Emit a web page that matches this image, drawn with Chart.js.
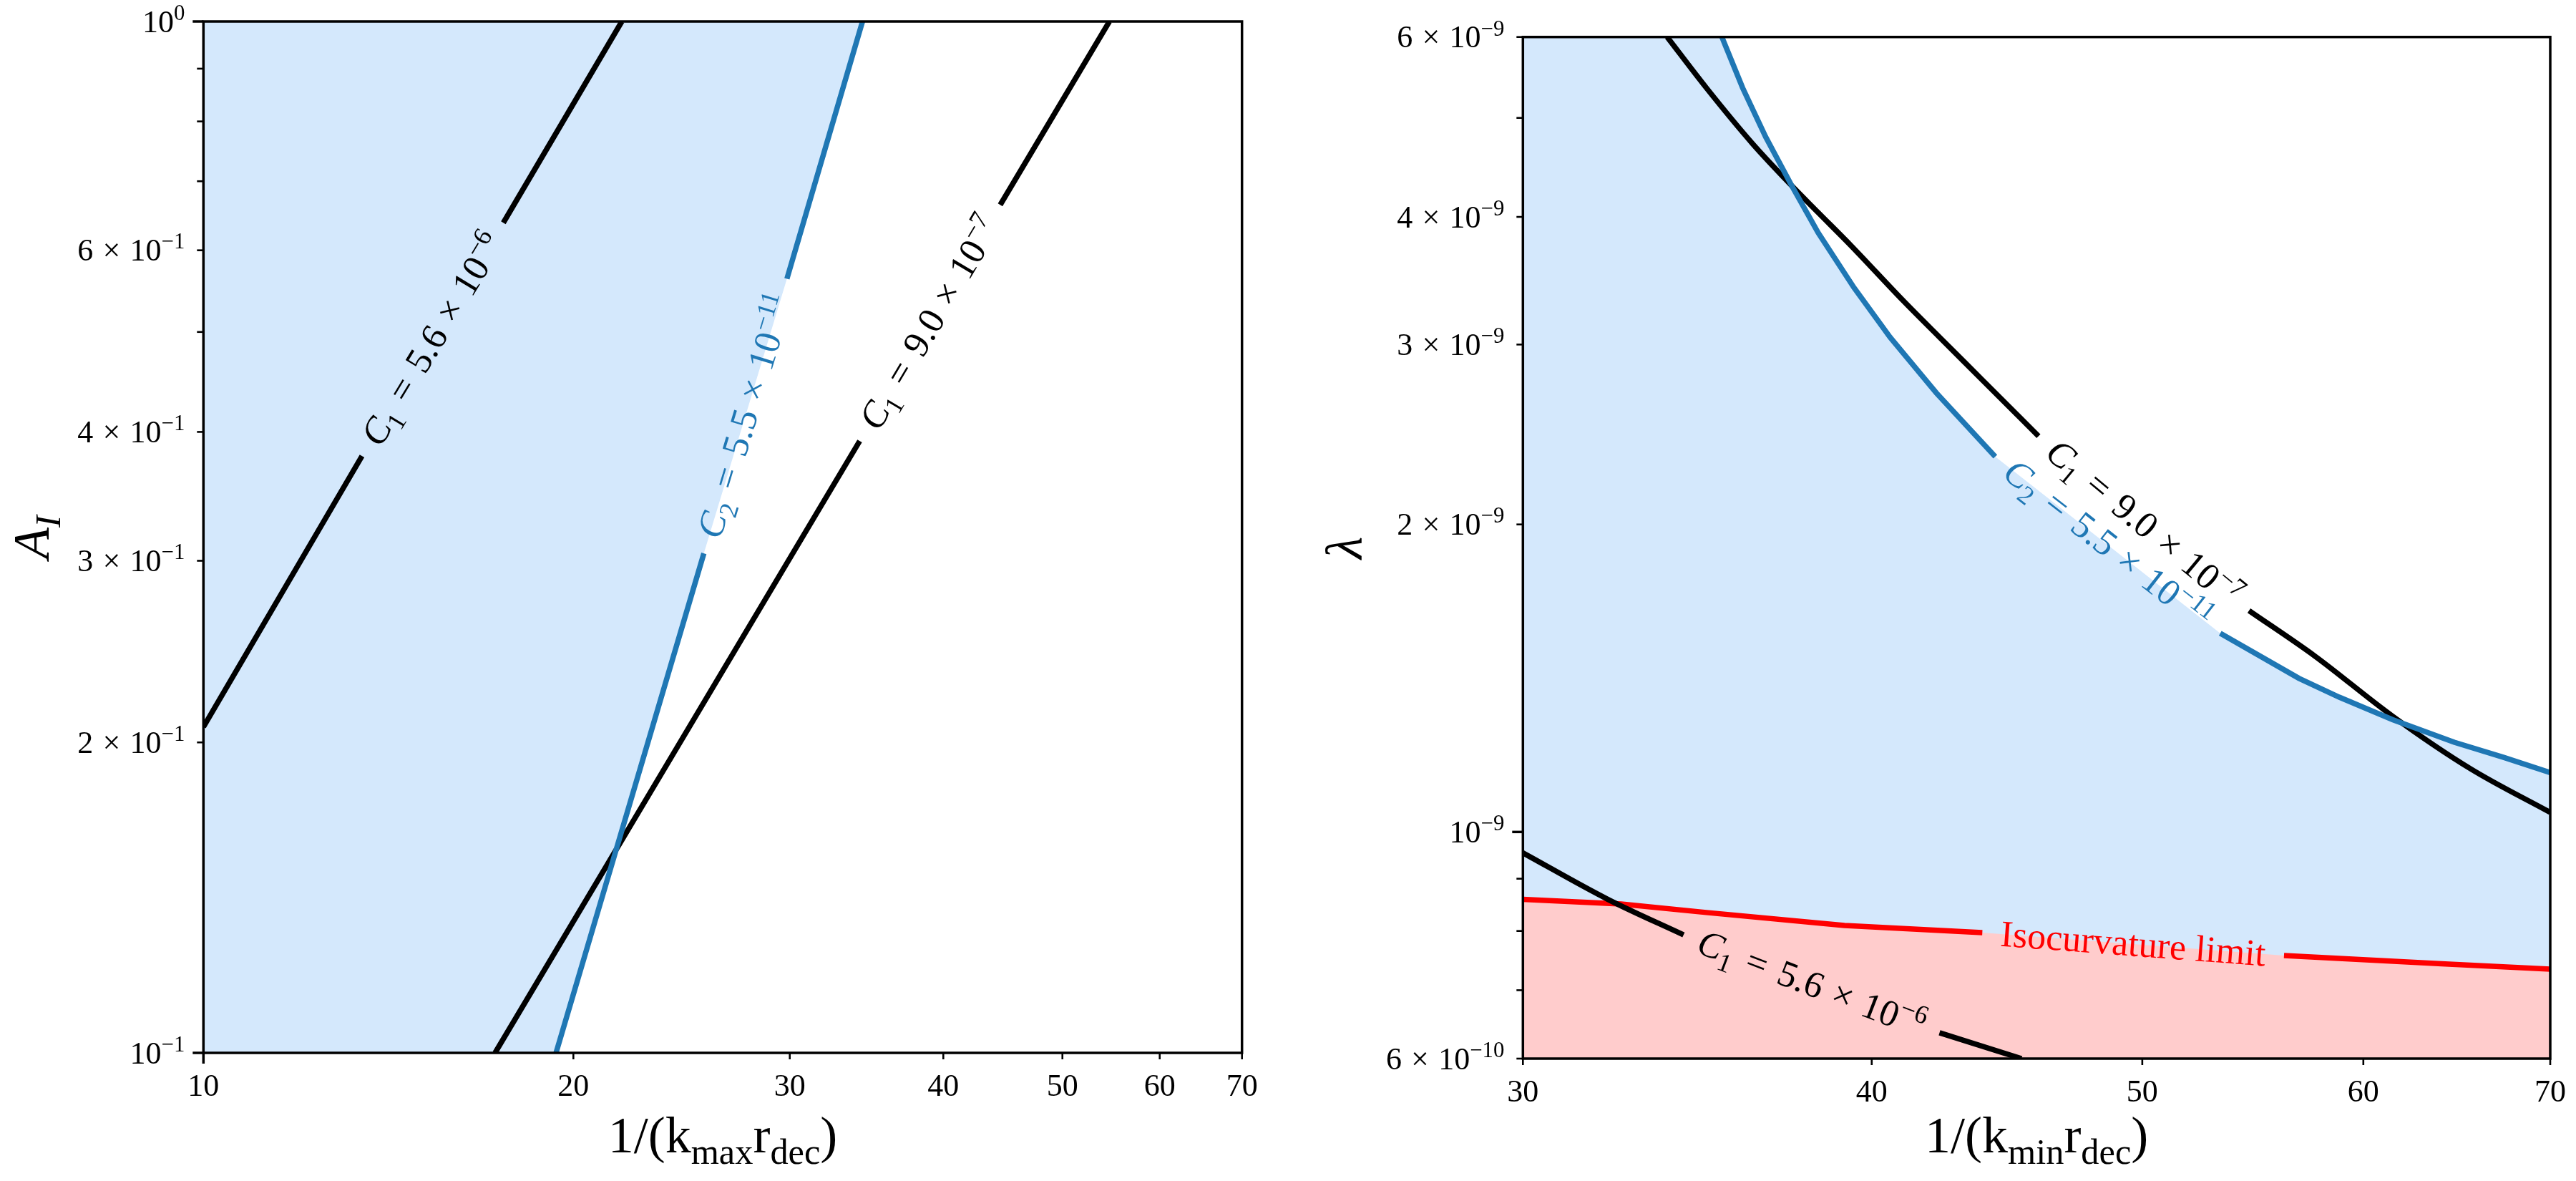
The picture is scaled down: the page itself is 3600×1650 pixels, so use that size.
<!DOCTYPE html>
<html>
<head>
<meta charset="utf-8">
<script src="https://cdn.jsdelivr.net/npm/chart.js@4.4.1/dist/chart.umd.min.js"></script>
<style>
  body { margin: 0; background: #fff; }
  canvas { position: absolute; top: 0; }
  #left { left: 0; }
  #right { left: 1800px; }
</style>
</head>
<body>
<canvas id="left" width="1800" height="1650"></canvas>
<canvas id="right" width="1800" height="1650"></canvas>
<script>
// ---- left panel: 1/(k_max r_dec) vs A_I ----
const kmaxTicks = [10, 20, 30, 40, 50, 60, 70];
const aiTicks = [0.1, 0.2, 0.3, 0.4, 0.5, 0.6, 0.7, 0.8, 0.9, 1];
const aiTickLabels = ['10^−1', '2 × 10^−1', '3 × 10^−1', '4 × 10^−1', '', '6 × 10^−1', '', '', '', '10^0'];
// null marks the gap where the inline label sits
const kmaxC1hi = [[10, 0.207], [13.46, 0.379], null, [17.54, 0.638], [21.9, 1.0]];
const kmaxC1lo = [[17.27, 0.1], [34.2, 0.392], null, [44.5, 0.664], [54.6, 1.0]];
const kmaxC2 = [[19.36, 0.1], [25.54, 0.305], null, [29.84, 0.563], [34.38, 1.0]];
const kmaxAllowedEdge = [[10, 0.1]];

// ---- right panel: 1/(k_min r_dec) vs lambda ----
const kminTicks = [30, 40, 50, 60, 70];
const lamTicks = [6e-10, 7e-10, 8e-10, 9e-10, 1e-9, 2e-9, 3e-9, 4e-9, 5e-9, 6e-9];
const lamTickLabels = ['6 × 10^−10', '', '', '', '10^−9', '2 × 10^−9', '3 × 10^−9', '4 × 10^−9', '', '6 × 10^−9'];
const kminC1lo = [[33.79, 6.0e-9], [34.90, 5.35e-9], [36.25, 4.72e-9], [37.45, 4.29e-9], [38.27, 4.04e-9],
  [39.32, 3.75e-9], [41.06, 3.31e-9], [42.30, 3.05e-9], [43.82, 2.77e-9], [45.9, 2.44e-9], null,
  [54.6, 1.647e-9], [57.64, 1.487e-9], [61.47, 1.298e-9], [65.55, 1.153e-9], [70, 1.045e-9]];
const kminC2 = [[35.35, 6.0e-9], [35.96, 5.35e-9], [36.65, 4.79e-9], [37.45, 4.29e-9], [38.27, 3.86e-9],
  [39.42, 3.41e-9], [40.61, 3.05e-9], [42.19, 2.69e-9], [44.29, 2.33e-9], null,
  [53.32, 1.565e-9], [56.89, 1.414e-9], [58.82, 1.355e-9], [61.47, 1.288e-9], [64.67, 1.224e-9],
  [67.36, 1.183e-9], [70, 1.143e-9]];
const kminC1hi = [[30, 9.54e-10], [32.18, 8.59e-10], [34.25, 7.93e-10], null, [42.30, 6.36e-10], [45.26, 6.0e-10]];
const kminIso = [[30, 8.59e-10], [32.53, 8.50e-10], [34.90, 8.34e-10], [39.11, 8.10e-10], [43.82, 7.97e-10], null,
  [56.2, 7.57e-10], [64.0, 7.43e-10], [70, 7.34e-10]];
const kminAllowedEdge = [[30, 6.0e-9]];

const FONT = '"Liberation Serif", "DejaVu Serif", serif';
const BLUE = '#1f77b4';
const BLUE_FILL = '#d4e8fc';
const RED_FILL = '#ffcccc';
const LW = 7.5;

function pts(arr) {
  return arr.map((p, i) => p ? { x: p[0], y: p[1] } : { x: arr[i - 1][0], y: null });
}

function line(arr, color, smooth) {
  return { data: pts(arr), borderColor: color, borderWidth: LW, pointRadius: 0, fill: false,
    tension: smooth ? 0.4 : 0, cubicInterpolationMode: smooth ? 'monotone' : 'default', clip: 0, order: 1 };
}

function area(arr, color, fill, order) {
  return { data: pts(arr), backgroundColor: color, borderWidth: 0, pointRadius: 0,
    fill: fill, tension: 0, clip: 0, order: order };
}

function cLabel(i, mant, exp) {
  return [{ t: 'C', it: true }, { t: i, sub: true }, { t: '=', sp: 0.36 }, { t: mant },
    { t: '×', sp: 0.3 }, { t: '10' }, { t: '−' + exp, sup: true }];
}

// '2 × 10^−1' -> rich segments
function tickSegs(label) {
  const m = label.match(/^(?:(\S+) × )?10\^(.+)$/);
  const segs = [];
  if (m[1]) segs.push({ t: m[1] }, { t: '×', sp: 0.3 });
  segs.push({ t: '10' }, { t: m[2], sup: true });
  return segs;
}

function drawRich(ctx, segs, x, y, size, o) {
  ctx.save();
  ctx.translate(x, y);
  ctx.rotate(o.angle || 0);
  ctx.fillStyle = o.color || 'black';
  ctx.textBaseline = 'alphabetic';
  let w = 0;
  const parts = segs.map(s => {
    const fs = (s.sub || s.sup) ? size * 0.7 : size;
    const font = (s.it ? 'italic ' : '') + fs + 'px ' + FONT;
    ctx.font = font;
    const sp = (s.sp || 0) * size;
    const m = ctx.measureText(s.t).width;
    w += m + 2 * sp;
    return { s, font, m, sp, dy: s.sub ? size * 0.22 : s.sup ? -size * 0.38 : 0 };
  });
  let cx = o.align === 'right' ? -w : -w / 2;
  const base = (o.shift || 0) * size;
  parts.forEach(p => {
    ctx.font = p.font;
    cx += p.sp;
    ctx.fillText(p.s.t, cx, base + p.dy);
    cx += p.m + p.sp;
  });
  ctx.restore();
}

function logAxis(min, max, vals, labels, size, horizontal, pad) {
  return {
    type: 'logarithmic', min: min, max: max, bounds: 'data',
    grid: { display: false }, border: { display: false },
    afterBuildTicks: s => { s.ticks = vals.map(v => ({ value: v })); },
    afterFit: s => { if (horizontal) s.height = size; else s.width = size; },
    ticks: { display: horizontal, autoSkip: false, maxRotation: 0, minRotation: 0, padding: pad, color: 'black',
      font: { family: FONT, size: 44 }, callback: (v, i) => labels[i] }
  };
}

// frame, tick marks (major longer than minor) and y tick labels with exponents
function frameTicks(xMajor, yMajor, yLabels) {
  return {
    id: 'frameTicks',
    afterDraw(chart) {
      const { ctx, chartArea: a } = chart;
      const xs = chart.scales.x, ys = chart.scales.y;
      ctx.save();
      ctx.strokeStyle = 'black';
      xs.ticks.forEach(t => {
        const major = xMajor.includes(t.value);
        const px = xs.getPixelForValue(t.value);
        ctx.lineWidth = major ? 3.5 : 2.6;
        ctx.beginPath(); ctx.moveTo(px, a.bottom); ctx.lineTo(px, a.bottom + (major ? 15 : 9)); ctx.stroke();
      });
      ys.ticks.forEach((t, i) => {
        const major = yMajor.includes(t.value);
        const py = ys.getPixelForValue(t.value);
        ctx.lineWidth = major ? 3.5 : 2.6;
        ctx.beginPath(); ctx.moveTo(a.left, py); ctx.lineTo(a.left - (major ? 15 : 9), py); ctx.stroke();
        if (yLabels[i]) drawRich(ctx, tickSegs(yLabels[i]), a.left - 26, py, 44, { align: 'right', shift: 0.33 });
      });
      ctx.lineWidth = 3.5;
      ctx.strokeRect(a.left, a.top, a.right - a.left, a.bottom - a.top);
      ctx.restore();
    }
  };
}

// inline contour labels, centred in the gap of each curve
function contourLabels(items) {
  return {
    id: 'contourLabels',
    afterDatasetsDraw(chart) {
      const xs = chart.scales.x, ys = chart.scales.y;
      items.forEach(it => {
        const k = it.curve.indexOf(null);
        const a = it.curve[k - 1], b = it.curve[k + 1];
        const x1 = xs.getPixelForValue(a[0]), y1 = ys.getPixelForValue(a[1]);
        const x2 = xs.getPixelForValue(b[0]), y2 = ys.getPixelForValue(b[1]);
        drawRich(chart.ctx, it.segs, (x1 + x2) / 2, (y1 + y2) / 2, 52,
          { angle: Math.atan2(y2 - y1, x2 - x1), color: it.color, shift: 0.32 });
      });
    }
  };
}

function axisTitles(xSegs, xBase, ySegs, yBase) {
  return {
    id: 'axisTitles',
    afterDraw(chart) {
      const a = chart.chartArea;
      drawRich(chart.ctx, xSegs, (a.left + a.right) / 2, xBase, 72, {});
      drawRich(chart.ctx, ySegs, yBase, (a.top + a.bottom) / 2, 72, { angle: -Math.PI / 2 });
    }
  };
}

const common = {
  responsive: false, animation: false, events: [],
  plugins: { legend: { display: false }, tooltip: { enabled: false } }
};

new Chart(document.getElementById('left'), {
  type: 'line',
  data: {
    datasets: [
      area(kmaxAllowedEdge.concat(kmaxC2.filter(Boolean)), BLUE_FILL, 'end', 10),
      line(kmaxC1hi, 'black'),
      line(kmaxC2, BLUE),
      line(kmaxC1lo, 'black')
    ]
  },
  options: Object.assign({}, common, {
    layout: { padding: { top: 30, right: 64.3, left: 0, bottom: 0 } },
    scales: {
      x: logAxis(10, 70, kmaxTicks, kmaxTicks.map(String), 179, true, 14),
      y: logAxis(0.1, 1, aiTicks, aiTickLabels, 284.3, false, 26)
    }
  }),
  plugins: [
    contourLabels([
      { curve: kmaxC1hi, color: 'black', segs: cLabel('1', '5.6', '6') },
      { curve: kmaxC2, color: BLUE, segs: cLabel('2', '5.5', '11') },
      { curve: kmaxC1lo, color: 'black', segs: cLabel('1', '9.0', '7') }
    ]),
    axisTitles(
      [{ t: '1/(k' }, { t: 'max', sub: true }, { t: 'r' }, { t: 'dec', sub: true }, { t: ')' }], 1610,
      [{ t: 'A', it: true }, { t: 'I', it: true, sub: true }], 68),
    frameTicks([10], [0.1, 1], aiTickLabels)
  ]
});

new Chart(document.getElementById('right'), {
  type: 'line',
  data: {
    datasets: [
      area(kminAllowedEdge.concat(kminC2.filter(Boolean)), BLUE_FILL, 'start', 10),
      area(kminIso.filter(Boolean), RED_FILL, 'start', 9),
      line(kminC2, BLUE),
      line(kminC1lo, 'black', true),
      line(kminC1hi, 'black', true),
      line(kminIso, '#ff0000')
    ]
  },
  options: Object.assign({}, common, {
    layout: { padding: { top: 51.7, right: 34.3, left: 0, bottom: 0 } },
    scales: {
      x: logAxis(30, 70, kminTicks, kminTicks.map(String), 171, true, 14),
      y: logAxis(6e-10, 6e-9, lamTicks, lamTickLabels, 328.3, false, 26)
    }
  }),
  plugins: [
    contourLabels([
      { curve: kminC1lo, color: 'black', segs: cLabel('1', '9.0', '7') },
      { curve: kminC2, color: BLUE, segs: cLabel('2', '5.5', '11') },
      { curve: kminC1hi, color: 'black', segs: cLabel('1', '5.6', '6') },
      { curve: kminIso, color: '#ff0000', segs: [{ t: 'Isocurvature limit' }] }
    ]),
    axisTitles(
      [{ t: '1/(k' }, { t: 'min', sub: true }, { t: 'r' }, { t: 'dec', sub: true }, { t: ')' }], 1610,
      [{ t: 'λ', it: true }], 103),
    frameTicks([], [1e-9], lamTickLabels)
  ]
});
</script>
</body>
</html>
